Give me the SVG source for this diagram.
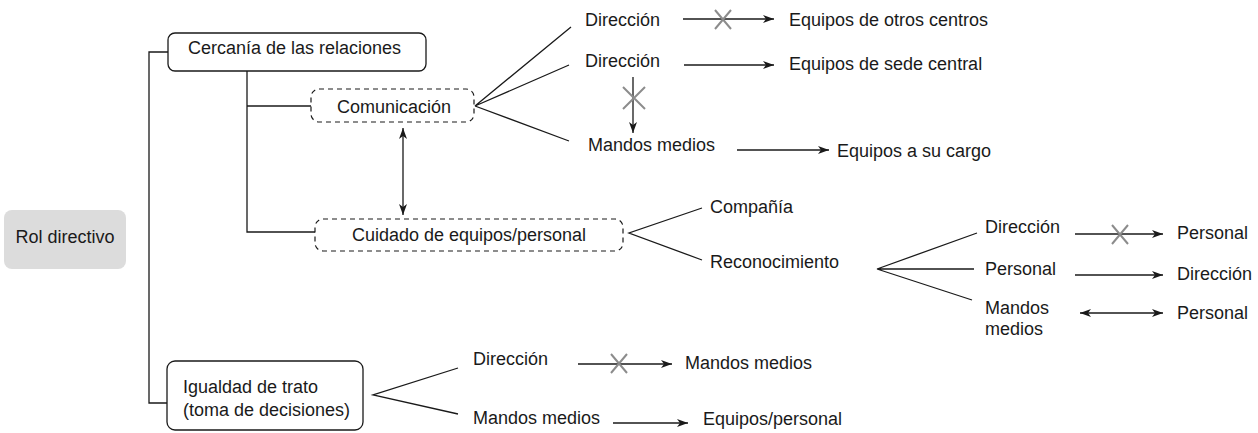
<svg xmlns="http://www.w3.org/2000/svg" width="1258" height="433" viewBox="0 0 1258 433">
  <style>
    text { font-family: "Liberation Sans", Arial, sans-serif; font-size: 18px; fill: #1a1a1a; }
    .box { fill: #ffffff; stroke: #1a1a1a; stroke-width: 1.3; }
    .dash { fill: #ffffff; stroke: #1a1a1a; stroke-width: 1.2; stroke-dasharray: 5 4; }
    .grey { fill: #dcdcdc; stroke: none; }
    .ln { fill: none; stroke: #1a1a1a; stroke-width: 1.3; }
    .arr { fill: none; stroke: #1a1a1a; stroke-width: 1.3; marker-end: url(#ah); }
    .arr2 { fill: none; stroke: #1a1a1a; stroke-width: 1.3; marker-end: url(#ah); marker-start: url(#ah); }
    .x { fill: none; stroke: #8c8c8c; stroke-width: 2; }
  </style>
  <defs>
    <marker id="ah" markerUnits="userSpaceOnUse" markerWidth="12" markerHeight="8" refX="11" refY="4" orient="auto-start-reverse">
      <path d="M0,0 L11,4 L0,8 L3,4 Z" fill="#1a1a1a"/>
    </marker>
  </defs>

  <g id="connectors">
    <!-- main bracket -->
    <path class="ln" d="M168,52 H149 V403 H167"/>
    <!-- Cercania sub-branches -->
    <path class="ln" d="M247,71 V232 H315"/>
    <path class="ln" d="M247,106 H311"/>
    <!-- double arrow Comunicacion - Cuidado -->
    <line class="arr2" x1="403" y1="128" x2="403" y2="215"/>
    <!-- Comunicacion fan -->
    <path class="ln" d="M571,27 L475,106 L569,65 M475,106 L569,141"/>
    <!-- Direccion -X-> otros centros -->
    <line class="arr" x1="683" y1="19" x2="774" y2="19"/>
    <path class="x" d="M715,10 L731,29 M731,10 L715,29"/>
    <!-- Direccion -> sede central -->
    <line class="arr" x1="684" y1="65" x2="774" y2="65"/>
    <!-- Direccion -X-> Mandos medios (vertical) -->
    <line class="arr" x1="633" y1="77" x2="633" y2="133"/>
    <path class="x" d="M623,87 L645,109 M645,87 L623,109"/>
    <!-- Mandos medios -> Equipos a su cargo -->
    <line class="arr" x1="737" y1="150" x2="829" y2="150"/>
    <!-- Cuidado fan -->
    <path class="ln" d="M702,208 L629,233 L702,260"/>
    <!-- Reconocimiento fan -->
    <path class="ln" d="M977,233 L877,269 L974,269 M877,269 L972,300"/>
    <line class="arr" x1="1075" y1="234" x2="1163" y2="234"/>
    <path class="x" d="M1112,225 L1128,244 M1128,225 L1112,244"/>
    <line class="arr" x1="1075" y1="275" x2="1163" y2="275"/>
    <line class="arr2" x1="1080" y1="313" x2="1163" y2="313"/>
    <!-- Igualdad fan -->
    <path class="ln" d="M458,368 L373,395 L458,414"/>
    <line class="arr" x1="578" y1="364" x2="672" y2="364"/>
    <path class="x" d="M611,354 L627,373 M627,354 L611,373"/>
    <line class="arr" x1="613" y1="423" x2="688" y2="423"/>
  </g>

  <g id="rol-directivo">
    <rect class="grey" x="4" y="210" width="122" height="59" rx="8"/>
    <text x="65" y="243" text-anchor="middle">Rol directivo</text>
  </g>

  <g id="cercania">
    <rect class="box" x="168" y="33" width="258" height="38" rx="7"/>
    <text x="188" y="54">Cercanía de las relaciones</text>
  </g>

  <g id="comunicacion">
    <rect class="dash" x="311" y="89" width="163" height="33" rx="8"/>
    <text x="394" y="113" text-anchor="middle">Comunicación</text>
  </g>

  <g id="cuidado">
    <rect class="dash" x="315" y="219" width="308" height="32" rx="8"/>
    <text x="469" y="241" text-anchor="middle">Cuidado de equipos/personal</text>
  </g>

  <g id="igualdad">
    <rect class="box" x="167" y="361" width="196" height="69" rx="8"/>
    <text x="183" y="393">Igualdad de trato</text>
    <text x="183" y="416">(toma de decisiones)</text>
  </g>

  <g id="com-direccion-1"><text x="585" y="26">Dirección</text></g>
  <g id="com-direccion-2"><text x="585" y="67">Dirección</text></g>
  <g id="com-mandos"><text x="588" y="151">Mandos medios</text></g>
  <g id="eq-otros"><text x="789" y="26">Equipos de otros centros</text></g>
  <g id="eq-sede"><text x="789" y="70">Equipos de sede central</text></g>
  <g id="eq-cargo"><text x="837" y="157">Equipos a su cargo</text></g>

  <g id="companía"><text x="710" y="213">Compañía</text></g>
  <g id="reconocimiento"><text x="710" y="268">Reconocimiento</text></g>

  <g id="rec-direccion"><text x="985" y="233">Dirección</text></g>
  <g id="rec-personal"><text x="985" y="275">Personal</text></g>
  <g id="rec-mandos"><text x="985" y="314">Mandos</text><text x="985" y="335">medios</text></g>
  <g id="out-personal-1"><text x="1177" y="239">Personal</text></g>
  <g id="out-direccion"><text x="1177" y="280">Dirección</text></g>
  <g id="out-personal-2"><text x="1177" y="319">Personal</text></g>

  <g id="ig-direccion"><text x="473" y="365">Dirección</text></g>
  <g id="ig-mandos-out"><text x="685" y="369">Mandos medios</text></g>
  <g id="ig-mandos"><text x="473" y="424">Mandos medios</text></g>
  <g id="ig-equipos"><text x="703" y="425">Equipos/personal</text></g>
</svg>
